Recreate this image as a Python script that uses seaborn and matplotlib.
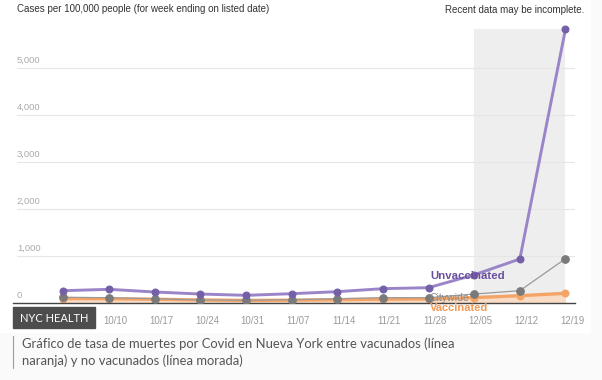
import matplotlib
matplotlib.use('Agg')
import matplotlib.pyplot as plt
from matplotlib.patches import Rectangle
from matplotlib.lines import Line2D
import numpy as np
import pandas as pd
import seaborn as sns

# data
weeks = ['10/03', '10/10', '10/17', '10/24', '10/31', '11/07',
         '11/14', '11/21', '11/28', '12/05', '12/12', '12/19']
unvaccinated = [262, 291, 234, 191, 163, 198, 241, 305, 326, 600, 936, 5823]
citywide = [121, 113, 91, 64, 57, 70, 91, 113, 113, 191, 262, 943]
vaccinated = [95, 90, 80, 65, 55, 60, 70, 80, 85, 115, 155, 206]
y_ticks = [0, 1000, 2000, 3000, 4000, 5000]
y_tick_labels = ['0', '1,000', '2,000', '3,000', '4,000', '5,000']

sns.set_style('white')
plt.rcParams['font.family'] = ['Liberation Sans', 'DejaVu Sans']

W, H = 602, 380
fig = plt.figure(figsize=(W / 100, H / 100), dpi=100)
fig.patch.set_facecolor('#fafafa')
fig.patches.append(Rectangle((0, 1 - 332 / H), 590 / W, 332 / H, transform=fig.transFigure,
                             color='white', zorder=-1))

ax = fig.add_axes([13 / W, 77 / H, 562 / W, 283 / H])
ax.set_facecolor('none')

idx = np.arange(len(weeks))
xs = idx - 1 / 7  # points sit one day before the week tick

df = pd.DataFrame({'x': xs, 'unvaccinated': unvaccinated,
                   'citywide': citywide, 'vaccinated': vaccinated})

# "recent data may be incomplete" shade
ax.fill_between([xs[9], xs[11]], 0, max(unvaccinated), color='#eeeeee', lw=0, zorder=0.5)

# grid lines
for v in y_ticks[1:]:
    ax.axhline(v, xmin=0.007, xmax=1, color='#e6e6e6', lw=0.8, zorder=0.8)

# vaccinated (orange, filled)
ax.fill_between(df['x'], 0, df['vaccinated'], color='#f8dcc6', lw=0, zorder=1)
sns.lineplot(data=df, x='x', y='vaccinated', ax=ax, color='#f5a468', lw=2.4,
             marker='o', ms=5, mec='#f5a468', mfc='#f5a468', zorder=2)
# citywide (gray, thin)
sns.lineplot(data=df, x='x', y='citywide', ax=ax, color='#9a9a9a', lw=0.9,
             marker='o', ms=5.5, mec='#7a7a7a', mfc='#7a7a7a', zorder=3)
# unvaccinated (purple)
sns.lineplot(data=df, x='x', y='unvaccinated', ax=ax, color='#9a85c8', lw=2.1,
             marker='o', ms=5, mec='#7560a8', mfc='#7560a8', zorder=4, clip_on=False)

ax.set_xlim(-1.249, 11.066)
ax.set_ylim(0, 6021)
ax.set_xticks(idx)
# first label is hidden behind the credit box in the original
ax.set_xticklabels([''] + weeks[1:])
ax.set_yticks([])
ax.set_xlabel('')
ax.set_ylabel('')
ax.tick_params(axis='x', direction='out', length=4, width=0.8, color='#444444',
               labelsize=6.9, labelcolor='#999999', pad=5)
for s in ['top', 'right', 'left']:
    ax.spines[s].set_visible(False)
ax.spines['bottom'].set_color('#444444')
ax.spines['bottom'].set_linewidth(1)

# y labels sit above their grid lines
for v, lab in zip(y_ticks, y_tick_labels):
    ax.annotate(lab, xy=(0.007, v), xycoords=('axes fraction', 'data'),
                xytext=(0, 2.5), textcoords='offset points', va='bottom', ha='left',
                fontsize=6.8, color='#aaaaaa')

# series labels
ax.annotate('Unvaccinated', xy=(xs[8], unvaccinated[8]), xytext=(1, 8.4),
            textcoords='offset points', ha='left', va='center', fontsize=8.2,
            fontweight='bold', color='#6a4f9c', zorder=6)
ax.annotate('Citywide', xy=(xs[8], citywide[8]), xytext=(1, 0),
            textcoords='offset points', ha='left', va='center', fontsize=7.6,
            color='#8a8a8a', zorder=6)
ax.annotate('Vaccinated', xy=(xs[8], vaccinated[8]), xytext=(1, -6.5),
            textcoords='offset points', ha='left', va='center', fontsize=8,
            fontweight='bold', color='#f39a55', zorder=6, annotation_clip=False)

# header texts
fig.text(17 / W, 1 - 9 / H, 'Cases per 100,000 people (for week ending on listed date)',
         ha='left', va='center', fontsize=7, color='#333333')
fig.text(584 / W, 1 - 10 / H, 'Recent data may be incomplete.',
         ha='right', va='center', fontsize=7, color='#333333')

# credit box
fig.patches.append(Rectangle((13 / W, 1 - 328 / H), 82 / W, 21 / H, transform=fig.transFigure,
                             color='#4d4d4d', zorder=5))
fig.text(54 / W, 1 - 318 / H, 'NYC HEALTH', ha='center', va='center', fontsize=8,
         color='white', family=['Lato', 'DejaVu Sans'], zorder=6)

# caption
fig.lines.append(Line2D([13 / W, 13 / W], [1 - 336 / H, 1 - 368 / H], transform=fig.transFigure,
                        color='#9a9a9a', lw=0.8))
fig.text(22 / W, 1 - 344 / H,
         'Gráfico de tasa de muertes por Covid en Nueva York entre vacunados (línea',
         ha='left', va='center', fontsize=9.4, color='#555555', family=['Lato', 'DejaVu Sans'])
fig.text(22 / W, 1 - 361 / H, 'naranja) y no vacunados (línea morada)',
         ha='left', va='center', fontsize=9.4, color='#555555', family=['Lato', 'DejaVu Sans'])

fig.savefig('out.png', dpi=100, facecolor=fig.get_facecolor())
